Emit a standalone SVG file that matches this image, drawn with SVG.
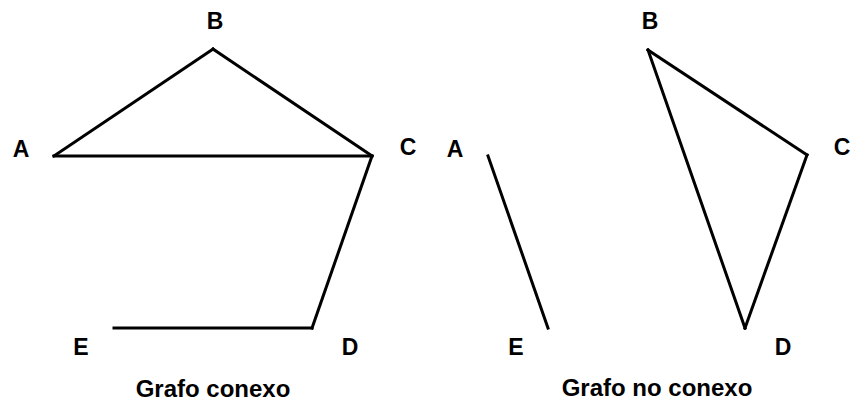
<svg xmlns="http://www.w3.org/2000/svg" width="855" height="405" viewBox="0 0 855 405">
<style>
.e{stroke:#000;stroke-width:3;fill:none;stroke-linecap:square;stroke-linejoin:miter}
.l{font-family:"Liberation Sans",Arial,sans-serif;font-size:23px;font-weight:bold;fill:#000;text-anchor:middle}
.t{font-family:"Liberation Sans",Arial,sans-serif;font-size:24px;font-weight:bold;fill:#000;text-anchor:middle}
</style>
<rect width="855" height="405" fill="#fff"/>
<g id="connectors">
<line class="e" x1="54" y1="156" x2="213" y2="49"/>
<line class="e" x1="213" y1="49" x2="372" y2="156"/>
<line class="e" x1="54" y1="156" x2="372" y2="156"/>
<line class="e" x1="372" y1="156" x2="312" y2="328"/>
<line class="e" x1="312" y1="328" x2="114" y2="328"/>
<line class="e" x1="488" y1="156" x2="548" y2="328"/>
<line class="e" x1="648" y1="50" x2="807" y2="155"/>
<line class="e" x1="648" y1="50" x2="745" y2="328"/>
<line class="e" x1="807" y1="155" x2="745" y2="328"/>
</g>
<g id="left-A"><text class="l" x="21" y="157">A</text></g>
<g id="left-B"><text class="l" x="215" y="29">B</text></g>
<g id="left-C"><text class="l" x="408" y="155">C</text></g>
<g id="left-D"><text class="l" x="350" y="355">D</text></g>
<g id="left-E"><text class="l" x="81" y="355">E</text></g>
<g id="right-A"><text class="l" x="455" y="157">A</text></g>
<g id="right-B"><text class="l" x="650" y="29">B</text></g>
<g id="right-C"><text class="l" x="842" y="155">C</text></g>
<g id="right-D"><text class="l" x="783" y="355">D</text></g>
<g id="right-E"><text class="l" x="516" y="355">E</text></g>
<g id="captions">
<text class="t" x="213" y="397">Grafo conexo</text>
<text class="t" x="657" y="396">Grafo no conexo</text>
</g>
</svg>
